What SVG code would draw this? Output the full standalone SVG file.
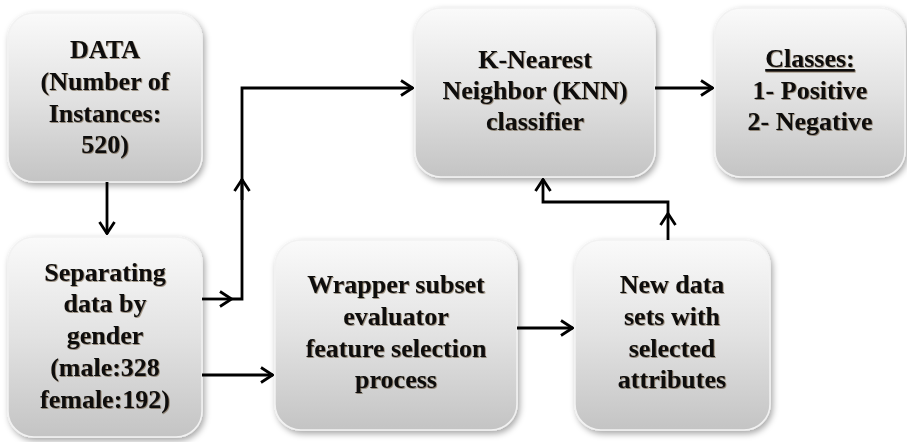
<svg xmlns="http://www.w3.org/2000/svg" width="907" height="442" viewBox="0 0 907 442">
<defs>
  <linearGradient id="boxg" x1="0" y1="0" x2="0" y2="1">
    <stop offset="0" stop-color="#fafafa"/>
    <stop offset="0.5" stop-color="#e2e2e2"/>
    <stop offset="1" stop-color="#c4c4c4"/>
  </linearGradient>
  <filter id="sh" x="-10%" y="-10%" width="125%" height="125%">
    <feDropShadow dx="2" dy="3" stdDeviation="3" flood-color="#000" flood-opacity="0.35"/>
  </filter>
  <filter id="tsh" x="-5%" y="-5%" width="110%" height="110%">
    <feDropShadow dx="0.8" dy="0.8" stdDeviation="0.3" flood-color="#4a3510" flood-opacity="0.6"/>
  </filter>
  <marker id="arr" viewBox="0 0 14 18" refX="13" refY="9" markerWidth="14" markerHeight="18" markerUnits="userSpaceOnUse" orient="auto">
    <path d="M1,1.5 L12.5,9 L1,16.5" fill="none" stroke="#000" stroke-width="2.8"/>
  </marker>
</defs>
<style>
  .box { fill: url(#boxg); stroke: #f2f2f2; stroke-width: 1.5; filter: url(#sh); }
  .t { font-family: "Liberation Serif", "Times New Roman", serif; font-weight: bold; font-size: 26px; fill: #0a0a0a; text-anchor: middle; filter: url(#tsh); }
  .c { fill: none; stroke: #000; stroke-width: 2.8; }
</style>

<g id="node-data">
  <rect class="box" x="8" y="13" width="194" height="169" rx="26"/>
  <text class="t" x="105" y="58">DATA</text>
  <text class="t" x="105" y="90">(Number of</text>
  <text class="t" x="105" y="122">Instances:</text>
  <text class="t" x="105" y="153">520)</text>
</g>

<g id="node-separating">
  <rect class="box" x="8" y="237" width="194" height="200" rx="26"/>
  <text class="t" x="105" y="281">Separating</text>
  <text class="t" x="105" y="312">data by</text>
  <text class="t" x="105" y="344">gender</text>
  <text class="t" x="105" y="376">(male:328</text>
  <text class="t" x="105" y="408">female:192)</text>
</g>

<g id="node-knn">
  <rect class="box" x="415" y="8" width="240" height="169" rx="26"/>
  <text class="t" x="535" y="68">K-Nearest</text>
  <text class="t" x="535" y="99">Neighbor (KNN)</text>
  <text class="t" x="535" y="130">classifier</text>
</g>

<g id="node-classes">
  <rect class="box" x="715" y="8" width="190" height="169" rx="26"/>
  <text class="t" x="810" y="67" text-decoration="underline">Classes:</text>
  <text class="t" x="810" y="99">1- Positive</text>
  <text class="t" x="810" y="130">2- Negative</text>
</g>

<g id="node-wrapper">
  <rect class="box" x="275" y="240" width="242" height="190" rx="26"/>
  <text class="t" x="396" y="293">Wrapper subset</text>
  <text class="t" x="396" y="325">evaluator</text>
  <text class="t" x="396" y="357">feature selection</text>
  <text class="t" x="396" y="388">process</text>
</g>

<g id="node-newdata">
  <rect class="box" x="575" y="240" width="195" height="190" rx="26"/>
  <text class="t" x="672" y="293">New data</text>
  <text class="t" x="672" y="325">sets with</text>
  <text class="t" x="672" y="357">selected</text>
  <text class="t" x="672" y="388">attributes</text>
</g>

<g id="connectors">
  <line class="c" x1="107" y1="182" x2="107" y2="234" marker-end="url(#arr)"/>
  <line class="c" x1="202" y1="299" x2="232" y2="299" marker-end="url(#arr)"/>
  <polyline class="c" points="232,299 242,299 242,178"/>
  <line class="c" x1="242" y1="200" x2="242" y2="179" marker-end="url(#arr)"/>
  <polyline class="c" points="242,178 242,88 413,88" marker-end="url(#arr)"/>
  <line class="c" x1="202" y1="375" x2="273" y2="375" marker-end="url(#arr)"/>
  <line class="c" x1="517" y1="328" x2="573" y2="328" marker-end="url(#arr)"/>
  <line class="c" x1="668" y1="240" x2="668" y2="213" marker-end="url(#arr)"/>
  <polyline class="c" points="668,213 668,202 543,202 543,179" marker-end="url(#arr)"/>
  <line class="c" x1="655" y1="88" x2="713" y2="88" marker-end="url(#arr)"/>
</g>
</svg>
